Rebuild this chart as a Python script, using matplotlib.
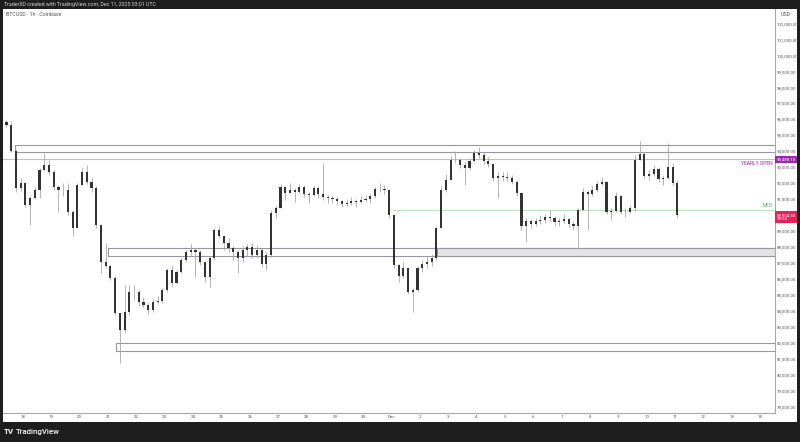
import numpy as np
import pandas as pd
import matplotlib
matplotlib.use("Agg")
import matplotlib.pyplot as plt
from matplotlib.patches import Rectangle

start = "2025-11-17 08:00"
first_open = 95800
close = [95600, 94000, 91670, 91990, 90600, 91050, 91550, 92800, 93120, 92680,
         91740, 91550, 91550, 90170, 89170, 91860, 92680, 92050, 91670, 89350,
         87030, 86780, 86030, 83840, 82770, 83900, 85150, 85150, 84530, 84340,
         84020, 84530, 84590, 85280, 86530, 85720, 86410, 87160, 87660, 87790,
         87660, 87030, 86090, 87280, 89040, 88660, 88220, 87910, 87660, 87280,
         87790, 87970, 87470, 87790, 86910, 87470, 90110, 90420, 91740, 91360,
         91550, 91420, 91740, 91300, 91240, 91670, 91300, 91110, 91050, 90980,
         90860, 90670, 90730, 90860, 90800, 90920, 90980, 91170, 91610, 91610,
         91550, 89980, 86850, 86160, 86660, 85150, 85280, 86660, 86910, 87030,
         87280, 89170, 91550, 92180, 93430, 93430, 93120, 92930, 93370, 93870,
         93740, 93370, 93180, 92300, 92430, 92360, 92300, 92050, 91360, 89290,
         89600, 89420, 89600, 89670, 89860, 89790, 89540, 89600, 89730, 89420,
         89290, 90290, 91420, 91300, 91550, 91920, 92050, 90170, 90230, 91170,
         90170, 90170, 90420, 93430, 93810, 92430, 92550, 92870, 92240, 92300,
         92990, 91990, 89964.3]
high = [95940, 95900, 94050, 92300, 92050, 91200, 91740, 92900, 93870, 93430,
        92800, 91860, 91990, 91990, 90290, 91990, 92930, 93120, 92300, 91800,
        89350, 88220, 86850, 86150, 83840, 85590, 85590, 85590, 85280, 84840,
        84460, 84710, 84900, 85400, 86660, 86780, 86530, 87280, 87790, 88160,
        87910, 87790, 87030, 87410, 89170, 89290, 88660, 88540, 88040, 87790,
        88040, 88160, 88220, 88100, 87910, 87660, 90290, 90540, 91920, 91800,
        91990, 91670, 91920, 91860, 91420, 91860, 91800, 93240, 91240, 91240,
        91110, 90920, 90980, 91110, 90980, 91170, 91240, 91300, 91740, 91990,
        91860, 91610, 89980, 86910, 87030, 86660, 85400, 86780, 87160, 87350,
        87540, 89290, 91800, 92550, 93680, 93990, 93550, 93300, 93550, 94050,
        94240, 93870, 93620, 93240, 92680, 92680, 92680, 92490, 92180, 91300,
        89790, 89730, 89790, 89980, 90040, 90290, 89920, 89790, 90040, 89790,
        89600, 90420, 91670, 91550, 91800, 92110, 92360, 92050, 90420, 91420,
        91240, 90420, 90610, 93740, 94620, 93930, 92800, 93120, 92990, 92490,
        94500, 93240, 92180]
low = [95500, 93900, 91420, 91500, 90480, 89350, 90980, 91050, 92800, 92490,
       91550, 90170, 91170, 89980, 88660, 89170, 91860, 91920, 91420, 89170,
       86340, 86660, 85900, 83710, 80700, 82580, 83700, 84650, 84270, 84210,
       83770, 83900, 84400, 84460, 85150, 85470, 85650, 86340, 87030, 87410,
       86090, 86850, 85780, 85470, 87160, 88540, 87790, 87660, 87160, 86340,
       87030, 87410, 87280, 87280, 86720, 86530, 87350, 89790, 90480, 90920,
       91360, 90800, 91360, 91110, 90730, 91170, 91050, 90920, 90730, 90730,
       90610, 90480, 90540, 90610, 90480, 90730, 90800, 90730, 91050, 91420,
       91300, 89790, 86660, 85780, 86030, 85030, 83900, 85150, 86410, 86660,
       86780, 87160, 89170, 91420, 92180, 93240, 92930, 91860, 92800, 93300,
       93550, 93180, 92990, 92110, 91050, 92110, 92110, 91920, 91170, 89040,
       88290, 89170, 89290, 89420, 89480, 89600, 89290, 89290, 89480, 89230,
       89040, 87910, 90290, 89040, 91170, 91420, 91860, 90040, 89670, 90170,
       90040, 89860, 90110, 90230, 93680, 92300, 92180, 92430, 92050, 91860,
       92240, 91860, 89800]

# drawn levels (price pairs) and the day they start, days from Nov 18
zone_top = [94370, 87912, 81937]
zone_bot = [93950, 87436, 81436]
zone_start = [-0.28, 3.0, 3.28]
box_top, box_bot, box_start = 87912, 87436, 14.6
yearly_open = 93488.10
monthly_open, mo_start = 90320, 13.05
last_price = 89964.30

price_ticks = list(range(78000, 103000, 1000))
day_labels = [str(d) for d in range(18, 31)] + ["Dec"] + [str(d) for d in range(2, 15)]

plt.rcParams["font.family"] = ["Roboto", "DejaVu Sans"]

times = pd.date_range(start, periods=len(close), freq="4h")
x = ((times - pd.Timestamp("2025-11-18")) / pd.Timedelta("1D")).values + 1 / 12
c = np.array(close, dtype=float)
o = np.r_[first_open, c[:-1]]
h = np.maximum(np.array(high, dtype=float), np.maximum(o, c))
l = np.minimum(np.array(low, dtype=float), np.minimum(o, c))

fig = plt.figure(figsize=(8, 4.42), dpi=100, facecolor="#1e1e1e")
fig.patches.append(Rectangle((3 / 800, 20 / 442), 794 / 800, 413 / 442,
                             transform=fig.transFigure, fc="white", ec="none", zorder=-5))
ax = fig.add_axes([3 / 800, 29 / 442, 772 / 800, 404 / 442])
ax.set_facecolor("white")

ax.set_xlim(-0.7055, 26.526)
ax.set_ylim(96000 - 294 * 62.7, 96000 + 110 * 62.7)

gray = "#9598a1"
for top, bot, s in zip(zone_top, zone_bot, zone_start):
    ax.add_patch(Rectangle((s, bot), 40, top - bot, fill=False, ec=gray, lw=0.8, zorder=1))
ax.add_patch(Rectangle((box_start, box_bot), 40, box_top - box_bot, fc="#e3e3e3",
                       ec=gray, lw=0.8, zorder=1))
ax.axhline(yearly_open, color="#e3a8ec", lw=0.8, zorder=1)
ax.plot([mo_start, 40], [monthly_open, monthly_open], color="#b9e3bb", lw=0.8, zorder=1)

ax.vlines(x, l, h, color="#a8a8a8", lw=0.6, zorder=2)
ax.bar(x, np.maximum(np.abs(c - o), 25), bottom=np.minimum(o, c), width=0.075,
       color="#333333", lw=0, zorder=3)

ax.text(26.45, yearly_open - 150, "YEARLY OPEN", color="#9c27b0", fontsize=3.6,
        ha="right", va="top")
ax.text(26.45, monthly_open + 120, "M/O", color="#43a047", fontsize=3.6,
        ha="right", va="bottom")

ax.yaxis.tick_right()
ax.set_yticks([p for p in price_ticks if p != 90000])
ax.set_yticklabels([f"{p:,.2f}" for p in price_ticks if p != 90000])
ax.set_xticks(range(27))
ax.set_xticklabels(day_labels)
ax.tick_params(axis="both", length=0, labelsize=3.2, labelcolor="#555555")
ax.tick_params(axis="y", pad=1.2)
ax.tick_params(axis="x", pad=1.8)
for side in ["top", "left"]:
    ax.spines[side].set_visible(False)
for side in ["right", "bottom"]:
    ax.spines[side].set_color("#a8a8a8")
    ax.spines[side].set_linewidth(0.8)

ytf = ax.get_yaxis_transform()
ax.text(1.0018, yearly_open, f"{yearly_open:,.2f}", transform=ytf, color="white",
        fontsize=3.2, ha="left", va="center", clip_on=False, zorder=5,
        bbox=dict(boxstyle="square,pad=0.35", fc="#9c27b0", ec="none"))
ax.text(1.0018, last_price - 100, f"{last_price:,.2f}\n58:04", transform=ytf, color="white",
        fontsize=3.2, ha="left", va="center", linespacing=1.1, clip_on=False, zorder=5,
        bbox=dict(boxstyle="square,pad=0.35", fc="#eb1f5a", ec="none"))

fig.text(4 / 800, 1 - 4.5 / 442, "TraderXD created with TradingView.com, Dec 11, 2025 03:01 UTC",
         color="#d1d4dc", fontsize=3.8, va="center")
fig.text(6 / 800, 1 - 14 / 442, "BTCUSD · 1h · Coinbase", color="#555555", fontsize=3.8,
         va="center")
fig.text(781 / 800, 1 - 14 / 442, "USD", color="#555555", fontsize=3.8, va="center")
fig.text(4 / 800, 1 - 432 / 442, "TV", color="white", fontsize=5.8, fontweight="bold",
         va="center")
fig.text(16 / 800, 1 - 432 / 442, "TradingView", color="white", fontsize=5.6,
         fontweight="medium", va="center")

fig.savefig("out.png", dpi=100, facecolor=fig.get_facecolor())
